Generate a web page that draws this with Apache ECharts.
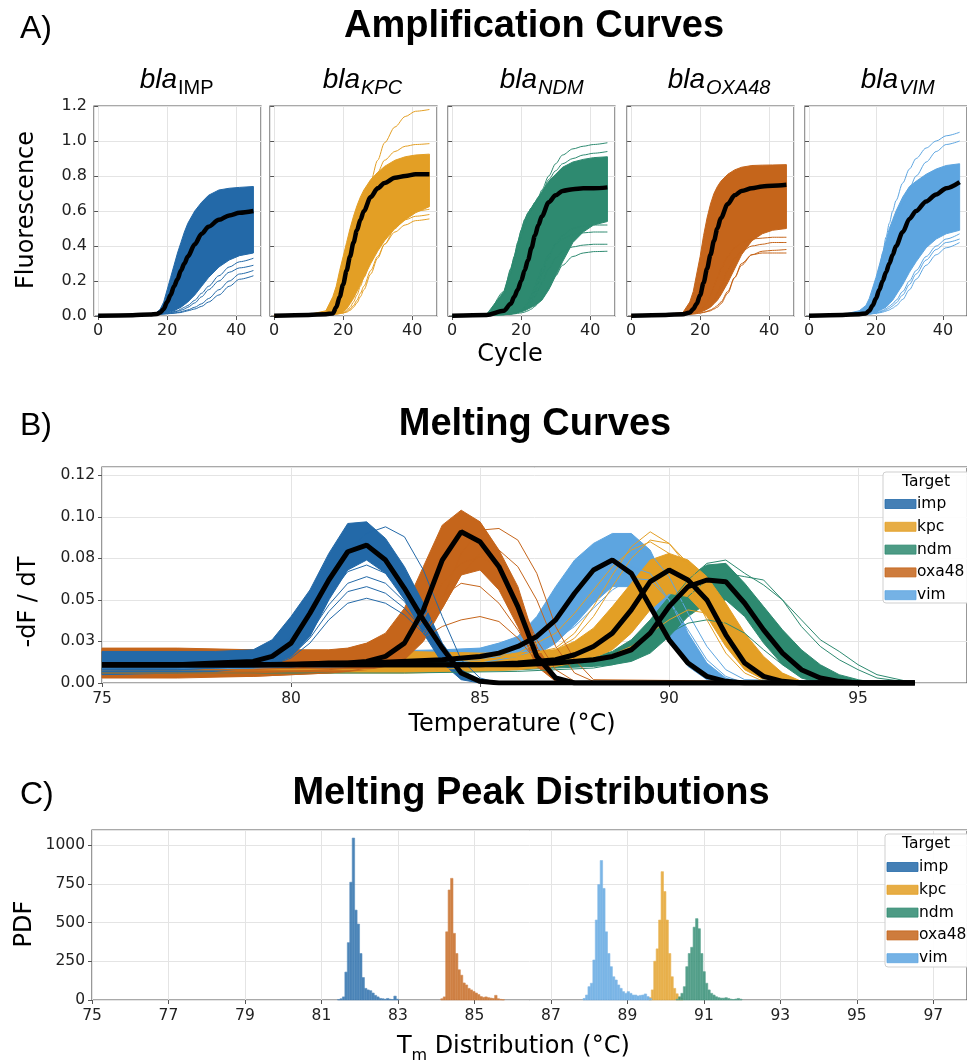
<!DOCTYPE html>
<html>
<head>
<meta charset="utf-8">
<script src="https://cdn.jsdelivr.net/npm/echarts@6/dist/echarts.min.js"></script>
<style>
  html, body { margin: 0; padding: 0; background: #fff; }
  #chart { width: 967px; height: 1063px; }
</style>
</head>
<body>
<div id="chart"></div>
<script>
// ---------- A) amplification curves ----------
const cycA = [0, 10, 15, 17, 18, 19, 20, 21, 22, 23, 24, 25, 26, 28, 30, 32, 35, 38, 41, 45]

const impMeanA = [0.002, 0.005, 0.008, 0.012, 0.02, 0.04, 0.08, 0.12, 0.17, 0.21, 0.26, 0.30, 0.34, 0.41, 0.47, 0.51, 0.55, 0.575, 0.59, 0.60]
const impUpperA = [0.004, 0.008, 0.012, 0.02, 0.04, 0.08, 0.15, 0.22, 0.29, 0.36, 0.42, 0.48, 0.53, 0.60, 0.65, 0.69, 0.72, 0.73, 0.735, 0.74]
const impLowerA = [0, 0.004, 0.007, 0.01, 0.012, 0.014, 0.018, 0.024, 0.03, 0.04, 0.05, 0.065, 0.08, 0.12, 0.17, 0.22, 0.28, 0.32, 0.345, 0.36]
const impLow1A = [0.001, 0.004, 0.007, 0.01, 0.012, 0.014, 0.016, 0.02, 0.025, 0.03, 0.04, 0.05, 0.06, 0.09, 0.13, 0.17, 0.23, 0.28, 0.31, 0.33]
const impLow2A = [0.001, 0.004, 0.007, 0.01, 0.012, 0.013, 0.015, 0.018, 0.022, 0.027, 0.033, 0.04, 0.05, 0.075, 0.11, 0.15, 0.2, 0.25, 0.275, 0.29]
const impLow3A = [0.001, 0.004, 0.007, 0.01, 0.011, 0.012, 0.013, 0.015, 0.017, 0.02, 0.024, 0.03, 0.035, 0.05, 0.07, 0.1, 0.15, 0.2, 0.24, 0.26]
const impLow4A = [0.001, 0.004, 0.007, 0.01, 0.011, 0.012, 0.013, 0.014, 0.016, 0.018, 0.02, 0.025, 0.03, 0.04, 0.055, 0.08, 0.12, 0.17, 0.21, 0.23]

const kpcMeanA = [0.002, 0.006, 0.01, 0.015, 0.05, 0.11, 0.18, 0.26, 0.34, 0.42, 0.49, 0.55, 0.6, 0.68, 0.73, 0.76, 0.79, 0.80, 0.81, 0.81]
const kpcUpperA = [0.004, 0.008, 0.03, 0.11, 0.17, 0.26, 0.34, 0.42, 0.5, 0.57, 0.63, 0.68, 0.72, 0.78, 0.82, 0.855, 0.89, 0.91, 0.92, 0.925]
const kpcLowerA = [0, 0.004, 0.007, 0.01, 0.012, 0.015, 0.025, 0.04, 0.07, 0.1, 0.14, 0.18, 0.22, 0.3, 0.37, 0.43, 0.5, 0.55, 0.59, 0.625]
const kpcHigh1A = [0.002, 0.006, 0.012, 0.03, 0.07, 0.12, 0.18, 0.25, 0.33, 0.41, 0.49, 0.57, 0.64, 0.77, 0.89, 0.99, 1.08, 1.14, 1.17, 1.18]
const kpcHigh2A = [0.002, 0.006, 0.012, 0.03, 0.07, 0.12, 0.18, 0.25, 0.33, 0.41, 0.49, 0.56, 0.62, 0.73, 0.82, 0.89, 0.94, 0.97, 0.98, 0.985]
const kpcLow1A = [0.001, 0.004, 0.007, 0.01, 0.012, 0.014, 0.02, 0.03, 0.05, 0.08, 0.12, 0.17, 0.22, 0.31, 0.39, 0.45, 0.51, 0.55, 0.57, 0.58]
const kpcLow2A = [0.001, 0.004, 0.007, 0.01, 0.012, 0.014, 0.018, 0.025, 0.04, 0.06, 0.09, 0.13, 0.17, 0.26, 0.34, 0.41, 0.48, 0.52, 0.545, 0.555]
const kpcLow3A = [0.001, 0.004, 0.007, 0.01, 0.012, 0.014, 0.017, 0.022, 0.032, 0.05, 0.075, 0.11, 0.15, 0.24, 0.33, 0.41, 0.5, 0.56, 0.6, 0.61]

const ndmMeanA = [0.002, 0.006, 0.03, 0.07, 0.11, 0.15, 0.2, 0.26, 0.32, 0.39, 0.46, 0.52, 0.57, 0.65, 0.69, 0.715, 0.725, 0.73, 0.73, 0.735]
const ndmUpperA = [0.003, 0.01, 0.14, 0.27, 0.34, 0.42, 0.49, 0.55, 0.59, 0.62, 0.65, 0.68, 0.71, 0.77, 0.81, 0.85, 0.88, 0.895, 0.905, 0.91]
const ndmLowerA = [0, 0.004, 0.008, 0.012, 0.016, 0.02, 0.025, 0.03, 0.04, 0.05, 0.06, 0.075, 0.09, 0.15, 0.23, 0.31, 0.42, 0.48, 0.52, 0.54]
const ndmHigh1A = [0.003, 0.01, 0.14, 0.27, 0.34, 0.42, 0.49, 0.55, 0.59, 0.62, 0.65, 0.68, 0.72, 0.8, 0.87, 0.92, 0.955, 0.97, 0.98, 0.99]
const ndmHigh2A = [0.003, 0.01, 0.12, 0.24, 0.31, 0.38, 0.45, 0.51, 0.56, 0.6, 0.64, 0.67, 0.7, 0.78, 0.83, 0.87, 0.9, 0.92, 0.93, 0.94]
const ndmLow1A = [0.001, 0.004, 0.008, 0.012, 0.015, 0.02, 0.03, 0.05, 0.08, 0.12, 0.17, 0.22, 0.27, 0.35, 0.41, 0.44, 0.465, 0.475, 0.48, 0.48]
const ndmLow2A = [0.001, 0.004, 0.008, 0.012, 0.015, 0.02, 0.025, 0.035, 0.05, 0.08, 0.11, 0.15, 0.19, 0.27, 0.33, 0.37, 0.395, 0.405, 0.41, 0.41]
const ndmLow3A = [0.001, 0.004, 0.007, 0.01, 0.012, 0.015, 0.018, 0.022, 0.03, 0.04, 0.055, 0.075, 0.1, 0.16, 0.23, 0.29, 0.34, 0.36, 0.368, 0.37]
const ndmLow4A = [0.001, 0.004, 0.008, 0.012, 0.016, 0.022, 0.03, 0.045, 0.07, 0.1, 0.14, 0.19, 0.24, 0.33, 0.41, 0.46, 0.5, 0.515, 0.52, 0.52]

const oxaMeanA = [0.002, 0.006, 0.01, 0.02, 0.04, 0.07, 0.12, 0.19, 0.27, 0.35, 0.43, 0.5, 0.56, 0.64, 0.69, 0.715, 0.73, 0.74, 0.745, 0.75]
const oxaUpperA = [0.003, 0.008, 0.02, 0.08, 0.14, 0.24, 0.34, 0.46, 0.56, 0.64, 0.7, 0.74, 0.77, 0.81, 0.835, 0.85, 0.86, 0.862, 0.863, 0.865]
const oxaLowerA = [0, 0.004, 0.008, 0.012, 0.016, 0.02, 0.025, 0.03, 0.04, 0.05, 0.07, 0.09, 0.12, 0.19, 0.27, 0.35, 0.43, 0.47, 0.49, 0.5]
const oxaLow1A = [0.001, 0.004, 0.008, 0.012, 0.015, 0.02, 0.03, 0.05, 0.08, 0.12, 0.17, 0.22, 0.27, 0.34, 0.39, 0.42, 0.44, 0.445, 0.45, 0.45]
const oxaLow2A = [0.001, 0.004, 0.008, 0.012, 0.015, 0.018, 0.022, 0.03, 0.04, 0.06, 0.09, 0.13, 0.17, 0.26, 0.33, 0.37, 0.40, 0.41, 0.42, 0.42]
const oxaLow3A = [0.001, 0.004, 0.007, 0.01, 0.012, 0.014, 0.017, 0.02, 0.025, 0.03, 0.04, 0.05, 0.07, 0.13, 0.22, 0.3, 0.35, 0.36, 0.36, 0.36]
const oxaLow4A = [0.001, 0.004, 0.007, 0.01, 0.012, 0.014, 0.017, 0.021, 0.027, 0.035, 0.045, 0.06, 0.08, 0.14, 0.22, 0.29, 0.35, 0.37, 0.375, 0.38]

const vimMeanA = [0.002, 0.006, 0.01, 0.015, 0.03, 0.06, 0.1, 0.15, 0.2, 0.25, 0.3, 0.35, 0.4, 0.48, 0.555, 0.6, 0.655, 0.695, 0.73, 0.765]
const vimUpperA = [0.003, 0.008, 0.03, 0.06, 0.1, 0.16, 0.22, 0.29, 0.36, 0.43, 0.5, 0.55, 0.6, 0.68, 0.74, 0.77, 0.81, 0.84, 0.86, 0.87]
const vimLowerA = [0, 0.004, 0.008, 0.012, 0.015, 0.018, 0.022, 0.03, 0.04, 0.05, 0.07, 0.09, 0.12, 0.18, 0.25, 0.31, 0.39, 0.44, 0.47, 0.49]
const vimHigh1A = [0.002, 0.006, 0.012, 0.04, 0.07, 0.12, 0.19, 0.27, 0.36, 0.45, 0.53, 0.6, 0.66, 0.76, 0.84, 0.9, 0.96, 1.0, 1.03, 1.05]
const vimHigh2A = [0.002, 0.006, 0.01, 0.03, 0.05, 0.09, 0.14, 0.2, 0.27, 0.34, 0.41, 0.48, 0.54, 0.64, 0.73, 0.8, 0.88, 0.94, 0.98, 1.0]
const vimLow1A = [0.001, 0.004, 0.007, 0.01, 0.012, 0.014, 0.018, 0.024, 0.032, 0.042, 0.055, 0.07, 0.09, 0.14, 0.2, 0.26, 0.34, 0.4, 0.44, 0.47]
const vimLow2A = [0.001, 0.004, 0.007, 0.01, 0.012, 0.014, 0.017, 0.021, 0.027, 0.035, 0.045, 0.058, 0.075, 0.12, 0.18, 0.24, 0.32, 0.38, 0.42, 0.44]
const vimLow3A = [0.001, 0.004, 0.007, 0.01, 0.011, 0.013, 0.015, 0.018, 0.022, 0.028, 0.035, 0.045, 0.058, 0.095, 0.15, 0.21, 0.29, 0.35, 0.39, 0.42]

// ---------- B) melting curves ----------
const tImp = [75, 77, 78, 79, 79.5, 80, 80.5, 81, 81.5, 82, 82.5, 83, 83.5, 84, 84.5, 85, 85.5, 86, 96.5]
const impMeanB = [0.011, 0.011, 0.012, 0.013, 0.016, 0.024, 0.042, 0.062, 0.079, 0.083, 0.074, 0.057, 0.038, 0.021, 0.006, 0.001, 0, 0, 0]
const impUpperB = [0.019, 0.019, 0.019, 0.02, 0.026, 0.04, 0.056, 0.078, 0.096, 0.097, 0.087, 0.07, 0.048, 0.024, 0.008, 0.002, 0, 0, 0]
const impLowerB = [0.005, 0.006, 0.007, 0.009, 0.011, 0.016, 0.028, 0.05, 0.068, 0.074, 0.066, 0.05, 0.03, 0.012, 0.002, 0, 0, 0, 0]
const impLine1B = [0.01, 0.01, 0.011, 0.012, 0.014, 0.02, 0.034, 0.053, 0.067, 0.071, 0.066, 0.053, 0.036, 0.02, 0.007, 0.001, 0, 0, 0]
const impLine2B = [0.009, 0.009, 0.01, 0.011, 0.013, 0.018, 0.03, 0.047, 0.06, 0.064, 0.06, 0.049, 0.034, 0.019, 0.007, 0.001, 0, 0, 0]
const impLine3B = [0.008, 0.008, 0.009, 0.01, 0.012, 0.016, 0.027, 0.043, 0.055, 0.058, 0.054, 0.045, 0.032, 0.018, 0.006, 0.001, 0, 0, 0]
const impLine4B = [0.008, 0.008, 0.009, 0.01, 0.011, 0.015, 0.024, 0.038, 0.048, 0.051, 0.048, 0.041, 0.03, 0.018, 0.006, 0.001, 0, 0, 0]
const impLine5B = [0.012, 0.012, 0.013, 0.014, 0.018, 0.028, 0.042, 0.06, 0.08, 0.09, 0.094, 0.088, 0.068, 0.04, 0.014, 0.003, 0, 0, 0]

const tOxa = [75, 77, 79, 80, 81, 81.5, 82, 82.5, 83, 83.5, 84, 84.5, 85, 85.5, 86, 86.5, 87, 87.5, 88, 96.5]
const oxaMeanB = [0.011, 0.011, 0.011, 0.011, 0.012, 0.012, 0.013, 0.016, 0.024, 0.044, 0.074, 0.091, 0.085, 0.07, 0.046, 0.016, 0.003, 0, 0, 0]
const oxaUpperB = [0.021, 0.021, 0.02, 0.02, 0.02, 0.021, 0.024, 0.03, 0.045, 0.07, 0.095, 0.104, 0.097, 0.08, 0.058, 0.022, 0.004, 0, 0, 0]
const oxaLowerB = [0.003, 0.003, 0.004, 0.005, 0.006, 0.007, 0.008, 0.01, 0.014, 0.025, 0.045, 0.065, 0.068, 0.056, 0.034, 0.01, 0.001, 0, 0, 0]
const oxaLine1B = [0.012, 0.012, 0.012, 0.012, 0.012, 0.013, 0.014, 0.016, 0.02, 0.03, 0.05, 0.078, 0.092, 0.093, 0.086, 0.066, 0.034, 0.014, 0.002, 0]
const oxaLine2B = [0.01, 0.01, 0.01, 0.01, 0.011, 0.011, 0.012, 0.014, 0.018, 0.028, 0.045, 0.065, 0.078, 0.08, 0.07, 0.05, 0.022, 0.006, 0.001, 0]
const oxaLine3B = [0.008, 0.008, 0.008, 0.009, 0.01, 0.011, 0.012, 0.016, 0.025, 0.04, 0.052, 0.06, 0.058, 0.048, 0.032, 0.014, 0.003, 0, 0, 0]
const oxaLine4B = [0.006, 0.006, 0.006, 0.007, 0.008, 0.009, 0.01, 0.014, 0.02, 0.027, 0.034, 0.038, 0.04, 0.037, 0.027, 0.013, 0.003, 0, 0, 0]
const oxaLine5B = [0.004, 0.004, 0.004, 0.005, 0.006, 0.007, 0.009, 0.013, 0.022, 0.038, 0.06, 0.072, 0.076, 0.07, 0.052, 0.026, 0.008, 0.001, 0, 0]

const tVim = [75, 79, 82, 84, 85, 85.5, 86, 86.5, 87, 87.5, 88, 88.5, 89, 89.5, 90, 90.5, 91, 91.5, 92, 96.5]
const vimMeanB = [0.011, 0.011, 0.012, 0.014, 0.016, 0.018, 0.022, 0.028, 0.038, 0.054, 0.068, 0.074, 0.066, 0.046, 0.026, 0.012, 0.004, 0.001, 0, 0]
const vimUpperB = [0.018, 0.018, 0.019, 0.02, 0.021, 0.024, 0.028, 0.04, 0.058, 0.074, 0.084, 0.09, 0.09, 0.08, 0.056, 0.03, 0.012, 0.003, 0, 0]
const vimLowerB = [0.006, 0.007, 0.008, 0.009, 0.01, 0.011, 0.013, 0.017, 0.024, 0.035, 0.048, 0.058, 0.058, 0.045, 0.025, 0.01, 0.002, 0, 0, 0]
const vimLine1B = [0.009, 0.01, 0.011, 0.012, 0.014, 0.016, 0.019, 0.024, 0.03, 0.04, 0.052, 0.064, 0.07, 0.066, 0.05, 0.028, 0.01, 0.002, 0, 0]
const vimLine2B = [0.008, 0.009, 0.01, 0.011, 0.012, 0.014, 0.016, 0.02, 0.026, 0.034, 0.045, 0.056, 0.063, 0.062, 0.05, 0.032, 0.014, 0.004, 0, 0]
const vimLine3B = [0.01, 0.01, 0.011, 0.012, 0.014, 0.016, 0.02, 0.026, 0.036, 0.05, 0.064, 0.076, 0.082, 0.078, 0.064, 0.042, 0.022, 0.008, 0.002, 0]

const tKpc = [75, 79, 83, 85, 86, 87, 87.5, 88, 88.5, 89, 89.5, 90, 90.5, 91, 91.5, 92, 92.5, 93, 93.5, 96.5]
const kpcMeanB = [0.011, 0.011, 0.011, 0.011, 0.012, 0.014, 0.017, 0.022, 0.03, 0.044, 0.061, 0.068, 0.062, 0.05, 0.029, 0.012, 0.004, 0.001, 0, 0]
const kpcUpperB = [0.02, 0.02, 0.019, 0.018, 0.018, 0.02, 0.025, 0.033, 0.046, 0.06, 0.074, 0.078, 0.074, 0.064, 0.048, 0.03, 0.016, 0.006, 0.001, 0]
const kpcLowerB = [0.006, 0.006, 0.006, 0.007, 0.008, 0.01, 0.012, 0.015, 0.02, 0.03, 0.044, 0.054, 0.052, 0.04, 0.022, 0.008, 0.002, 0, 0, 0]
const kpcLine1B = [0.012, 0.012, 0.013, 0.014, 0.016, 0.021, 0.03, 0.046, 0.065, 0.082, 0.091, 0.084, 0.07, 0.05, 0.03, 0.014, 0.005, 0.001, 0, 0]
const kpcLine2B = [0.012, 0.012, 0.013, 0.014, 0.016, 0.02, 0.027, 0.04, 0.058, 0.075, 0.086, 0.084, 0.072, 0.054, 0.034, 0.016, 0.006, 0.001, 0, 0]
const kpcLine3B = [0.012, 0.012, 0.013, 0.015, 0.018, 0.03, 0.042, 0.056, 0.07, 0.08, 0.085, 0.078, 0.06, 0.038, 0.018, 0.006, 0.001, 0, 0, 0]
const kpcLine4B = [0.008, 0.008, 0.008, 0.009, 0.01, 0.011, 0.012, 0.014, 0.017, 0.022, 0.03, 0.038, 0.044, 0.042, 0.032, 0.018, 0.007, 0.002, 0, 0]

const tNdm = [75, 79, 83, 86, 87, 88, 88.5, 89, 89.5, 90, 90.5, 91, 91.5, 92, 92.5, 93, 93.5, 94, 94.5, 95, 95.5, 96.5]
const ndmMeanB = [0.011, 0.011, 0.011, 0.011, 0.012, 0.014, 0.016, 0.02, 0.03, 0.046, 0.058, 0.062, 0.061, 0.048, 0.032, 0.018, 0.008, 0.003, 0.001, 0, 0, 0]
const ndmUpperB = [0.015, 0.015, 0.015, 0.015, 0.015, 0.016, 0.019, 0.026, 0.038, 0.052, 0.064, 0.071, 0.072, 0.06, 0.046, 0.032, 0.02, 0.011, 0.005, 0.002, 0, 0]
const ndmLowerB = [0.007, 0.007, 0.007, 0.008, 0.009, 0.01, 0.011, 0.013, 0.018, 0.028, 0.04, 0.048, 0.05, 0.04, 0.024, 0.011, 0.003, 0, 0, 0, 0, 0]
const ndmLine1B = [0.012, 0.012, 0.012, 0.012, 0.013, 0.015, 0.018, 0.024, 0.034, 0.048, 0.062, 0.072, 0.074, 0.066, 0.059, 0.05, 0.038, 0.026, 0.019, 0.011, 0.005, 0]
const ndmLine2B = [0.012, 0.012, 0.012, 0.012, 0.013, 0.014, 0.016, 0.02, 0.028, 0.04, 0.052, 0.062, 0.066, 0.064, 0.062, 0.05, 0.034, 0.022, 0.014, 0.008, 0.003, 0]
const ndmLine3B = [0.006, 0.006, 0.006, 0.007, 0.008, 0.009, 0.011, 0.015, 0.022, 0.03, 0.036, 0.038, 0.036, 0.03, 0.02, 0.011, 0.005, 0.002, 0, 0, 0, 0]

const yTickLabelsB = ['0.00', '0.03', '0.05', '0.08', '0.10', '0.12']

// ---------- C) melting peak histograms ----------
const binWidth = 0.064
const impBinStart = 81.42
const impCounts = [3, 8, 20, 180, 370, 760, 1045, 580, 490, 300, 145, 75, 65, 60, 45, 30, 20, 10, 8, 5, 10, 5, 3, 25, 5]
const kpcBinStart = 89.56
const kpcCounts = [15, 65, 250, 330, 516, 828, 700, 516, 300, 150, 75, 40, 20, 8]
const ndmBinStart = 90.27
const ndmCounts = [5, 20, 43, 86, 215, 300, 340, 470, 525, 460, 300, 183, 108, 65, 43, 32, 21, 15, 12, 12, 15, 10, 5, 3, 6, 10, 5]
const oxaBinStart = 84.12
const oxaCounts = [8, 20, 440, 710, 785, 430, 300, 195, 160, 110, 97, 75, 65, 55, 45, 35, 22, 17, 20, 15, 12, 10, 30, 8, 4, 2]
const vimBinStart = 87.84
const vimCounts = [10, 32, 86, 108, 258, 516, 745, 900, 720, 440, 300, 215, 150, 129, 97, 75, 54, 43, 54, 43, 32, 32, 26, 30, 32, 39, 22, 10]

const targets = ['imp', 'kpc', 'ndm', 'oxa48', 'vim']
const ampSubscripts = ['IMP', 'KPC', 'NDM', 'OXA48', 'VIM']
const palette = {
  imp: '#2369a8',
  kpc: '#e39f25',
  ndm: '#2e8a70',
  oxa48: '#c5651b',
  vim: '#5da5e0'
}

/**
 * 样式常量
 */
const tickFont = 'DejaVu Sans'
const headFont = 'Liberation Sans'
const frameColor = '#555'
const gridColor = '#e4e4e4'

const chart = echarts.init(document.getElementById('chart'))

// A 区五个子图的位置
const ampLefts = [94, 270, 448, 627, 805]
const grids = ampLefts.map(left => ({
  left, top: 106, width: 167, height: 210,
  show: true, borderColor: frameColor, borderWidth: 1.2, containLabel: false
}))
grids.push({ left: 102, top: 467, width: 865, height: 216, show: true, borderColor: frameColor, borderWidth: 1.2 })
grids.push({ left: 92, top: 830, width: 875, height: 170, show: true, borderColor: frameColor, borderWidth: 1.2 })

const baseAxis = (gridIndex) => ({
  type: 'value',
  gridIndex,
  axisLine: { show: false },
  axisTick: { show: true, length: 4, lineStyle: { color: frameColor, width: 1 } },
  splitLine: { show: true, lineStyle: { color: gridColor, width: 1 } },
  axisLabel: { color: '#222', fontFamily: tickFont, fontSize: 16, margin: 7 }
})

const xAxes = []
const yAxes = []
ampLefts.forEach((l, i) => {
  xAxes.push(Object.assign(baseAxis(i), {
    min: -1.2, max: 47.2, splitNumber: 3,
    axisLabel: {
      color: '#222', fontFamily: tickFont, fontSize: 16, margin: 7,
      showMinLabel: false, showMaxLabel: false,
      formatter: v => (Math.abs(v % 20) < 1e-6 ? String(v) : '')
    }
  }))
  yAxes.push(Object.assign(baseAxis(i), {
    min: 0, max: 1.2, interval: 0.2,
    axisLabel: {
      show: i === 0, color: '#222', fontFamily: tickFont, fontSize: 16, margin: 7,
      formatter: v => v.toFixed(1)
    }
  }))
})
// B
xAxes.push(Object.assign(baseAxis(5), {
  min: 75, max: 97.88, interval: 5,
  axisLabel: {
    color: '#222', fontFamily: tickFont, fontSize: 15.5, margin: 8, showMaxLabel: false,
    formatter: v => (Math.abs(v - Math.round(v)) < 1e-6 ? String(v) : '')
  }
}))
yAxes.push(Object.assign(baseAxis(5), {
  min: 0, max: 0.13, interval: 0.025,
  axisLabel: {
    color: '#222', fontFamily: tickFont, fontSize: 15.5, margin: 7, showMaxLabel: false,
    formatter: v => {
      const k = Math.round(v / 0.025)
      return Math.abs(v - k * 0.025) < 1e-6 && yTickLabelsB[k] ? yTickLabelsB[k] : ''
    }
  }
}))
// C
xAxes.push(Object.assign(baseAxis(6), {
  min: 75, max: 97.88, interval: 2,
  axisLabel: {
    color: '#222', fontFamily: tickFont, fontSize: 15.5, margin: 8, showMaxLabel: false,
    formatter: v => (Math.abs(v - Math.round(v)) < 1e-6 ? String(v) : '')
  }
}))
yAxes.push(Object.assign(baseAxis(6), {
  min: 0, max: 1097, interval: 250,
  axisLabel: {
    color: '#222', fontFamily: tickFont, fontSize: 15.5, margin: 7, showMaxLabel: false,
    formatter: v => (v % 250 === 0 ? String(v) : '')
  }
}))

/**
 * 系列构造
 */
const bandSeries = (axis, xs, upper, lower, color) => ({
  type: 'custom',
  xAxisIndex: axis,
  yAxisIndex: axis,
  silent: true,
  data: [[xs[0], upper[0]]],
  renderItem: (params, api) => {
    const pts = xs.map((x, i) => api.coord([x, upper[i]]))
    for (let i = xs.length - 1; i >= 0; i--) pts.push(api.coord([xs[i], lower[i]]))
    return {
      type: 'polygon',
      shape: { points: pts },
      style: { fill: color, stroke: color, lineWidth: 1 }
    }
  }
})

const lineSeries = (axis, xs, ys, color, width, smooth) => ({
  type: 'line',
  xAxisIndex: axis,
  yAxisIndex: axis,
  silent: true,
  showSymbol: false,
  smooth: smooth,
  smoothMonotone: 'x',
  data: xs.map((x, i) => [x, ys[i]]),
  lineStyle: { color, width }
})

const histSeries = (start, counts, color) => ({
  type: 'custom',
  xAxisIndex: 6,
  yAxisIndex: 6,
  silent: true,
  data: counts.map((c, i) => [start + i * binWidth, start + (i + 1) * binWidth, c]),
  encode: { x: [0, 1], y: 2 },
  renderItem: (params, api) => {
    const p0 = api.coord([api.value(0), api.value(2)])
    const p1 = api.coord([api.value(1), 0])
    return {
      type: 'rect',
      shape: { x: p0[0], y: p0[1], width: p1[0] - p0[0], height: p1[1] - p0[1] },
      style: {
        fill: echarts.color.modifyAlpha(color, 0.82),
        stroke: echarts.color.lift(color, 0.25),
        lineWidth: 0.6
      }
    }
  }
})

const series = []

// A：每个子图
const ampSets = [
  { mean: impMeanA, upper: impUpperA, lower: impLowerA, lines: [impLow1A, impLow2A, impLow3A, impLow4A] },
  { mean: kpcMeanA, upper: kpcUpperA, lower: kpcLowerA, lines: [kpcHigh1A, kpcHigh2A, kpcLow1A, kpcLow2A, kpcLow3A] },
  { mean: ndmMeanA, upper: ndmUpperA, lower: ndmLowerA, lines: [ndmHigh1A, ndmHigh2A, ndmLow1A, ndmLow2A, ndmLow3A, ndmLow4A] },
  { mean: oxaMeanA, upper: oxaUpperA, lower: oxaLowerA, lines: [oxaLow1A, oxaLow2A, oxaLow3A, oxaLow4A] },
  { mean: vimMeanA, upper: vimUpperA, lower: vimLowerA, lines: [vimHigh1A, vimHigh2A, vimLow1A, vimLow2A, vimLow3A] }
]
ampSets.forEach((s, i) => {
  const c = palette[targets[i]]
  series.push(bandSeries(i, cycA, s.upper, s.lower, c))
  s.lines.forEach(l => series.push(lineSeries(i, cycA, l, c, 1, 0.3)))
  series.push(lineSeries(i, cycA, s.mean, '#000', 4.5, 0.3))
})

// B：绘制顺序 vim, ndm, kpc, oxa48, imp
const meltSets = [
  { key: 'vim', t: tVim, mean: vimMeanB, upper: vimUpperB, lower: vimLowerB, lines: [vimLine1B, vimLine2B, vimLine3B] },
  { key: 'ndm', t: tNdm, mean: ndmMeanB, upper: ndmUpperB, lower: ndmLowerB, lines: [ndmLine1B, ndmLine2B, ndmLine3B] },
  { key: 'kpc', t: tKpc, mean: kpcMeanB, upper: kpcUpperB, lower: kpcLowerB, lines: [kpcLine1B, kpcLine2B, kpcLine3B, kpcLine4B] },
  { key: 'oxa48', t: tOxa, mean: oxaMeanB, upper: oxaUpperB, lower: oxaLowerB, lines: [oxaLine1B, oxaLine2B, oxaLine3B, oxaLine4B, oxaLine5B] },
  { key: 'imp', t: tImp, mean: impMeanB, upper: impUpperB, lower: impLowerB, lines: [impLine1B, impLine2B, impLine3B, impLine4B, impLine5B] }
]
meltSets.forEach(s => {
  const c = palette[s.key]
  series.push(bandSeries(5, s.t, s.upper, s.lower, c))
  s.lines.forEach(l => series.push(lineSeries(5, s.t, l, c, 1, false)))
})
meltSets.forEach(s => series.push(lineSeries(5, s.t, s.mean, '#000', 5, false)))

// C
series.push(histSeries(impBinStart, impCounts, palette.imp))
series.push(histSeries(kpcBinStart, kpcCounts, palette.kpc))
series.push(histSeries(ndmBinStart, ndmCounts, palette.ndm))
series.push(histSeries(oxaBinStart, oxaCounts, palette.oxa48))
series.push(histSeries(vimBinStart, vimCounts, palette.vim))

/**
 * 文字与图例
 */
const txt = (text, x, y, size, opts = {}) => ({
  type: 'text',
  x, y,
  z: 100,
  rotation: opts.rotation || 0,
  silent: true,
  style: {
    text,
    fill: '#000',
    fontFamily: opts.family || headFont,
    fontSize: size,
    fontWeight: opts.weight || 'normal',
    fontStyle: opts.style || 'normal',
    align: opts.align || 'center',
    verticalAlign: 'middle'
  }
})

const graphics = [
  txt('A)', 20, 29, 32, { align: 'left' }),
  txt('Amplification Curves', 534, 27, 38, { weight: 'bold' }),
  txt('B)', 20, 426, 32, { align: 'left' }),
  txt('Melting Curves', 535, 425, 38, { weight: 'bold' }),
  txt('C)', 20, 795, 32, { align: 'left' }),
  txt('Melting Peak Distributions', 531, 794, 38, { weight: 'bold' }),
  txt('Fluorescence', 26.5, 210, 24, { family: tickFont, rotation: Math.PI / 2 }),
  txt('Cycle', 510, 354.5, 24, { family: tickFont }),
  txt('-dF / dT', 28.5, 602, 24, { family: tickFont, rotation: Math.PI / 2 }),
  txt('Temperature (°C)', 512, 724.5, 24, { family: tickFont }),
  txt('PDF', 25, 924, 24, { family: tickFont, rotation: Math.PI / 2 }),
  txt('T', 397, 1046.5, 24, { family: tickFont, align: 'left' }),
  txt('m', 411.5, 1056, 16, { family: tickFont, align: 'left' }),
  txt(' Distribution (°C)', 427, 1046.5, 24, { family: tickFont, align: 'left' })
]

// 子图标题 bla_xxx
const ampTitleX = [177, 360, 537, 705, 898]
ampSubscripts.forEach((sub, i) => {
  graphics.push(txt('bla', ampTitleX[i], 80, 28, { style: 'italic', align: 'right' }))
  graphics.push(txt(sub, ampTitleX[i] + 1, 88, 20, { style: i === 0 ? 'normal' : 'italic', align: 'left' }))
})

// 图例
const legend = (boxX, boxY, boxH, patchX, firstY) => {
  graphics.push({
    type: 'rect', silent: true, z: 99,
    shape: { x: boxX, y: boxY, width: 100, height: boxH, r: 3 },
    style: { fill: 'rgba(255,255,255,0.92)', stroke: '#cfcfcf', lineWidth: 1 }
  })
  graphics.push(txt('Target', 926, boxY + 10, 15.5, { family: tickFont }))
  targets.forEach((t, i) => {
    const cy = firstY + i * 22.8
    graphics.push({
      type: 'rect', silent: true, z: 100,
      shape: { x: patchX, y: cy - 4.5, width: 31, height: 9 },
      style: { fill: echarts.color.modifyAlpha(palette[t], 0.85), stroke: palette[t], lineWidth: 0.8 }
    })
    graphics.push(txt(t, patchX + 32, cy, 15.5, { family: tickFont, align: 'left' }))
  })
}
legend(883, 472, 131, 885, 504)
legend(885, 834, 133, 887, 867)

const option = {
  animation: false,
  backgroundColor: '#fff',
  grid: grids,
  xAxis: xAxes,
  yAxis: yAxes,
  series,
  graphic: { elements: graphics }
}
chart.setOption(option)
</script>
</body>
</html>
